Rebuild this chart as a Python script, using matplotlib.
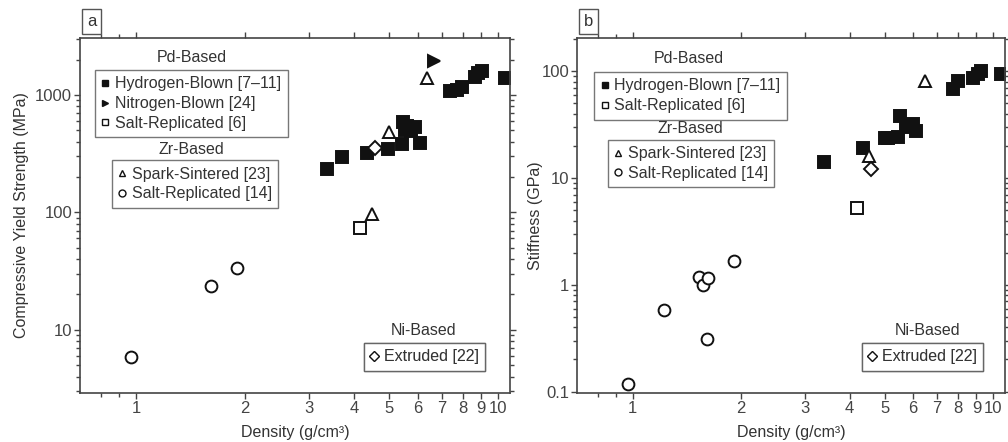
import matplotlib
matplotlib.use("Agg")
import matplotlib.pyplot as plt
from matplotlib.lines import Line2D
from matplotlib.ticker import FixedLocator, NullFormatter, LogLocator

plt.rcParams['font.family'] = ['Liberation Sans', 'DejaVu Sans']
plt.rcParams['text.color'] = '#333333'
plt.rcParams['axes.labelcolor'] = '#333333'
plt.rcParams['xtick.color'] = '#444444'
plt.rcParams['ytick.color'] = '#444444'

# ---- panel a: compressive yield strength (MPa) vs density (g/cm3) ----
a_h2_density = [3.38, 3.70, 4.34, 4.98, 5.42, 5.47, 5.52, 5.62, 5.75, 5.9, 6.09,
                7.37, 7.69, 7.94, 8.64, 8.82, 9.02, 10.45]
a_h2_strength = [233, 295, 319, 347, 383, 593, 504, 540, 490, 531, 393,
                 1088, 1103, 1177, 1432, 1530, 1600, 1387]
a_n2_density = [6.66]
a_n2_strength = [1960]
a_pd_salt_density = [4.16]
a_pd_salt_strength = [74]
a_spark_density = [6.38, 5.01, 4.48]
a_spark_strength = [1404, 481, 97]
a_zr_salt_density = [0.97, 1.61, 1.90]
a_zr_salt_strength = [5.9, 23.7, 33.9]
a_ni_density = [4.57]
a_ni_strength = [352]

# ---- panel b: stiffness (GPa) vs density (g/cm3) ----
b_h2_density = [3.39, 4.37, 5.0, 5.1, 5.45, 5.51, 5.74, 5.99, 6.12,
                7.74, 8.0, 8.8, 9.09, 9.24, 10.55]
b_h2_stiffness = [14.0, 19.1, 23.8, 23.5, 24.3, 38.4, 29.9, 32.4, 27.4,
                  68.4, 80.6, 86.7, 95.1, 100, 95]
b_pd_salt_density = [4.2]
b_pd_salt_stiffness = [5.25]
b_spark_density = [6.46, 4.52]
b_spark_stiffness = [81.8, 16.2]
b_zr_salt_density = [0.968, 1.22, 1.53, 1.57, 1.62, 1.61, 1.91]
b_zr_salt_stiffness = [0.118, 0.585, 1.18, 1.0, 1.16, 0.31, 1.66]
b_ni_density = [4.59]
b_ni_stiffness = [12.2]

x_major = [1, 2, 3, 4, 5, 6, 7, 8, 9, 10]
x_minor = [0.8, 0.9]

EDGE = '#111111'
LEG_FS = 11.5
TICK_FS = 12
LAB_FS = 11.5


def pts(ax, x, y, marker, filled, ms=8.5):
    ax.plot(x, y, linestyle='none', marker=marker, markersize=ms,
            markerfacecolor=EDGE if filled else 'white',
            markeredgecolor=EDGE, markeredgewidth=1.4)


def handle(marker, filled, label):
    return Line2D([], [], linestyle='none', marker=marker, markersize=5,
                  markerfacecolor=EDGE if filled else 'white',
                  markeredgecolor=EDGE, markeredgewidth=1.0, label=label)


def group_legend(ax, heading, hx, hy, handles, anchor):
    ax.text(hx, hy, heading, transform=ax.transAxes, ha='center', va='center',
            fontsize=LEG_FS)
    leg = ax.legend(handles=handles, loc='upper left', bbox_to_anchor=anchor,
                    fontsize=LEG_FS, frameon=True, fancybox=False, handlelength=0.5,
                    handletextpad=0.35, labelspacing=0.3, borderpad=0.4,
                    borderaxespad=0)
    leg.get_frame().set_edgecolor('#555555')
    leg.get_frame().set_linewidth(1.0)
    ax.add_artist(leg)


def style_axes(ax, ylim, ylabel, yticks, yticklabels, ylab_x):
    ax.set_xscale('log')
    ax.set_yscale('log')
    ax.set_xlim(0.7, 10.8)
    ax.set_ylim(*ylim)
    ax.xaxis.set_major_locator(FixedLocator(x_major))
    ax.xaxis.set_minor_locator(FixedLocator(x_minor))
    ax.set_xticklabels([str(v) for v in x_major])
    ax.xaxis.set_minor_formatter(NullFormatter())
    ax.set_yticks(yticks)
    ax.set_yticklabels(yticklabels)
    ax.yaxis.set_minor_locator(LogLocator(base=10, subs=range(2, 10)))
    ax.yaxis.set_minor_formatter(NullFormatter())
    ax.tick_params(which='both', top=True, right=True, labelsize=TICK_FS, pad=1.2)
    ax.tick_params(which='major', direction='out', length=4.5, width=1)
    ax.tick_params(which='minor', direction='out', length=2.8, width=1)
    for s in ax.spines.values():
        s.set_color('#444444')
        s.set_linewidth(1.2)
    ax.set_xlabel('Density (g/cm³)', fontsize=LAB_FS)
    ax.set_ylabel(ylabel, fontsize=LAB_FS)
    ax.xaxis.set_label_coords(0.5, -0.09)
    ax.yaxis.set_label_coords(ylab_x, 0.5)


fig = plt.figure(figsize=(10.08, 4.42), dpi=100)
ax1 = fig.add_axes([80 / 1008, 49 / 442, 430 / 1008, 355 / 442])
ax2 = fig.add_axes([577 / 1008, 49 / 442, 428 / 1008, 355 / 442])

# panel a
pts(ax1, a_h2_density, a_h2_strength, 's', True)
pts(ax1, a_n2_density, a_n2_strength, '>', True, 9)
pts(ax1, a_pd_salt_density, a_pd_salt_strength, 's', False)
pts(ax1, a_spark_density, a_spark_strength, '^', False, 9)
pts(ax1, a_zr_salt_density, a_zr_salt_strength, 'o', False)
pts(ax1, a_ni_density, a_ni_strength, 'D', False, 7)
style_axes(ax1, (2.9, 3050), 'Compressive Yield Strength (MPa)',
           [10, 100, 1000], ['10', '100', '1000'], -0.118)

group_legend(ax1, 'Pd-Based', 0.26, 0.946,
             [handle('s', True, 'Hydrogen-Blown [7\u201311]'),
              handle('>', True, 'Nitrogen-Blown [24]'),
              handle('s', False, 'Salt-Replicated [6]')], (0.035, 0.91))
group_legend(ax1, 'Zr-Based', 0.26, 0.687,
             [handle('^', False, 'Spark-Sintered [23]'),
              handle('o', False, 'Salt-Replicated [14]')], (0.074, 0.656))
group_legend(ax1, 'Ni-Based', 0.80, 0.175,
             [handle('D', False, 'Extruded [22]')], (0.66, 0.141))

# panel b
pts(ax2, b_h2_density, b_h2_stiffness, 's', True)
pts(ax2, b_pd_salt_density, b_pd_salt_stiffness, 's', False)
pts(ax2, b_spark_density, b_spark_stiffness, '^', False, 9)
pts(ax2, b_zr_salt_density, b_zr_salt_stiffness, 'o', False)
pts(ax2, b_ni_density, b_ni_stiffness, 'D', False, 7)
style_axes(ax2, (0.097, 205), 'Stiffness (GPa)',
           [0.1, 1, 10, 100], ['0.1', '1', '10', '100'], -0.08)

group_legend(ax2, 'Pd-Based', 0.262, 0.941,
             [handle('s', True, 'Hydrogen-Blown [7\u201311]'),
              handle('s', False, 'Salt-Replicated [6]')], (0.04, 0.904))
group_legend(ax2, 'Zr-Based', 0.266, 0.744,
             [handle('^', False, 'Spark-Sintered [23]'),
              handle('o', False, 'Salt-Replicated [14]')], (0.072, 0.713))
group_legend(ax2, 'Ni-Based', 0.82, 0.175,
             [handle('D', False, 'Extruded [22]')], (0.666, 0.141))

# panel letters
for px, letter in [(91.5, 'a'), (588.5, 'b')]:
    fig.text(px / 1008, 1 - 21.5 / 442, letter, ha='center', va='center',
             fontsize=12,
             bbox=dict(boxstyle='square,pad=0.3', fc='white', ec='#555555', lw=1.0))

fig.savefig('out.png', dpi=100)
